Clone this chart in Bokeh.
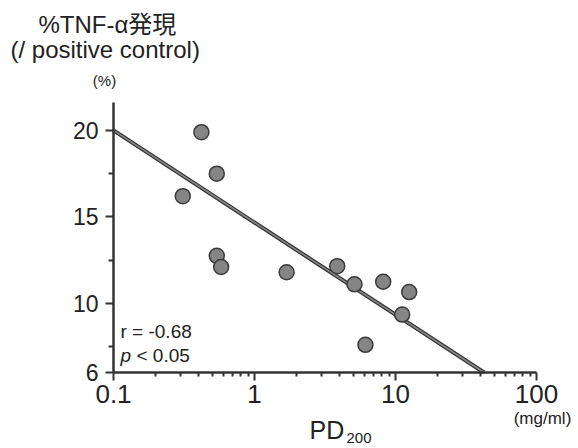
from bokeh.plotting import figure
from bokeh.models import FixedTicker, Label, ColumnDataSource, Range1d
from bokeh.embed import file_html
from bokeh.resources import INLINE

# data
pd200 = [0.31, 0.42, 0.54, 0.54, 0.58, 1.69, 3.86, 5.12, 6.12, 8.18, 11.15, 12.5]
tnf = [16.2, 19.9, 17.5, 12.75, 12.1, 11.8, 12.15, 11.1, 7.6, 11.25, 9.35, 10.65]
fit_x = [0.1, 42.5]
fit_y = [20.0, 6.0]
y_ticks = [6, 10, 15, 20]
y_minor = [7.5, 12.5, 17.5]
x_ticks = [0.1, 1, 10, 100]
x_tick_labels = ["0.1", "1", "10", "100"]
x_minor = [0.2, 0.3, 0.4, 0.5, 0.6, 0.7, 0.8, 0.9,
           2, 3, 4, 5, 6, 7, 8, 9,
           20, 30, 40, 50, 60, 70, 80, 90]
x_bounds = (0.1, 100)
y_bounds = (6, 21.6)

FONT = "Liberation Sans"

# layout geometry (pixels)
W, H = 578, 448
AX_L, AX_B = 113, 372     # where the y axis / x axis sit
DEC = 141.0               # pixels per decade on x
YPX = 17.29               # pixels per unit on y
x_lo = 10 ** ((0 - AX_L) / DEC - 1)
x_hi = 10 ** ((W - AX_L) / DEC - 1)
y_lo = y_bounds[0] - (H - AX_B) / YPX
y_hi = y_bounds[0] + AX_B / YPX

p = figure(width=W, height=H, x_axis_type="log", title=None,
           x_range=Range1d(x_lo, x_hi), y_range=Range1d(y_lo, y_hi),
           output_backend="svg", toolbar_location=None,
           min_border_left=0, min_border_right=0,
           min_border_top=0, min_border_bottom=0)
p.outline_line_color = None
p.xgrid.grid_line_color = None
p.ygrid.grid_line_color = None
p.background_fill_color = "white"
p.border_fill_color = "white"

for ax in (p.xaxis[0], p.yaxis[0]):
    ax.axis_line_color = "#333333"
    ax.axis_line_width = 2.5
    ax.major_tick_line_color = "#333333"
    ax.minor_tick_line_color = "#333333"
    ax.major_tick_line_width = 2
    ax.minor_tick_line_width = 2
    ax.major_tick_in = 0
    ax.minor_tick_in = 0
    ax.major_label_text_font = FONT
    ax.major_label_text_color = "#222222"

ya = p.yaxis[0]
ya.fixed_location = x_bounds[0]
ya.bounds = y_bounds
ya.ticker = FixedTicker(ticks=y_ticks, minor_ticks=y_minor)
ya.major_tick_out = 8
ya.minor_tick_out = 5
ya.major_label_standoff = 7
ya.major_label_text_font_size = "23px"

xa = p.xaxis[0]
xa.fixed_location = y_bounds[0]
xa.bounds = x_bounds
xa.ticker = FixedTicker(ticks=x_ticks, minor_ticks=x_minor)
xa.major_label_overrides = {t: s for t, s in zip(x_ticks, x_tick_labels)}
xa.major_tick_out = 8
xa.minor_tick_out = 4
xa.major_label_standoff = 4
xa.major_label_text_font_size = "26px"

# regression line (dark edge + grey core)
p.line(fit_x, fit_y, line_color="#333333", line_width=4)
p.line(fit_x, fit_y, line_color="#8a8a8a", line_width=1.5)

src = ColumnDataSource(dict(x=pd200, y=tnf))
p.scatter("x", "y", source=src, size=15, fill_color="#858585",
          line_color="#3a3a3a", line_width=1.5)

def lab(text, px, py, size, align="left", style="normal", font=FONT):
    # px, py: pixel position from the top-left corner of the canvas
    p.add_layout(Label(x=px, y=H - py, x_units="screen", y_units="screen",
                       text=text, text_font=font,
                       text_font_size=size, text_align=align,
                       text_baseline="middle", text_color="#222222",
                       text_font_style=style))

lab("%TNF-α発現", 38, 24, "24px", font="Liberation Sans, Noto Sans CJK JP")
lab("(/ positive control)", 10, 49, "24px")
lab("(%)", 104, 80, "15px", align="center")
lab("r = -0.68", 120, 331, "19px")
lab("p", 120, 355, "19px", style="italic")
lab("< 0.05", 136, 355, "19px")
lab("PD", 309, 429, "25px")
lab("200", 346, 437, "15px")
lab("(mg/ml)", 542, 418, "17px", align="center")

open("out.html", "w").write(file_html(p, INLINE))
